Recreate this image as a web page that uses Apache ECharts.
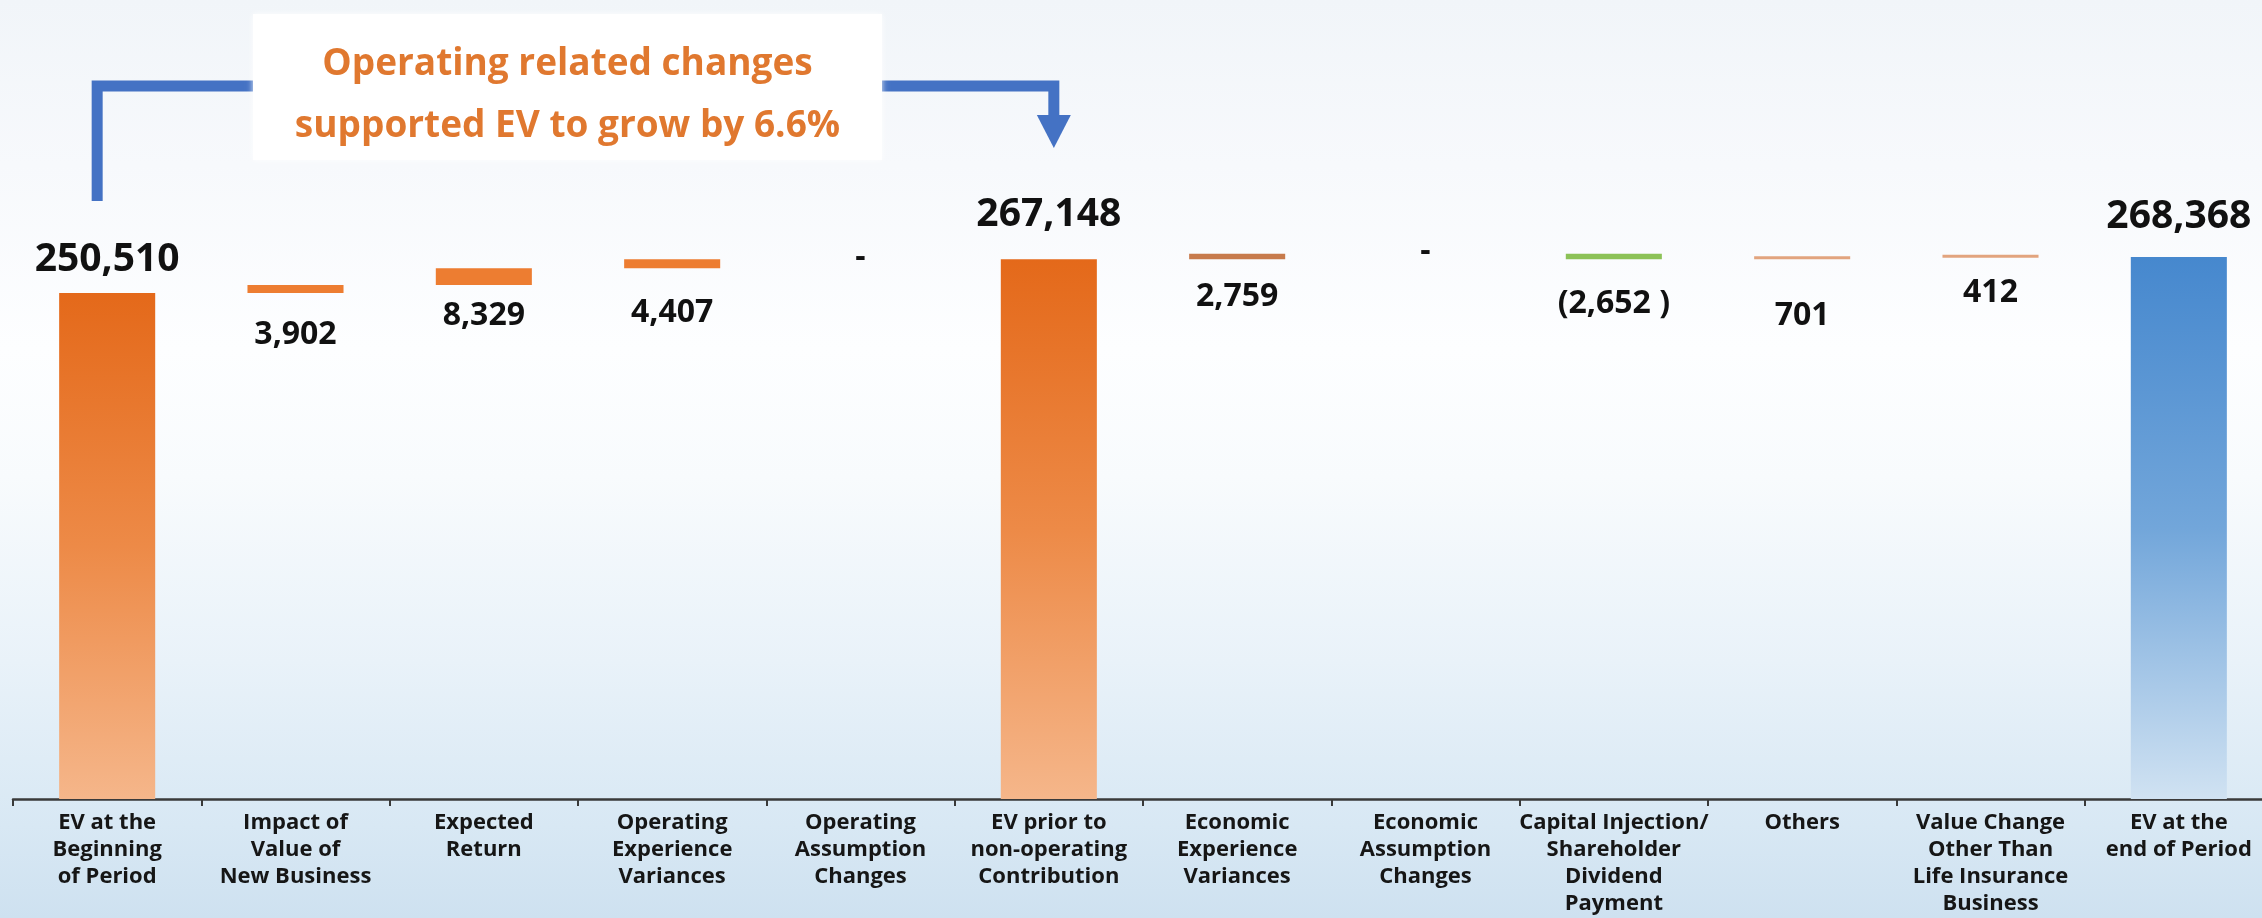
<!DOCTYPE html>
<html>
<head>
<meta charset="utf-8">
<title>EV movement</title>
<script src="https://cdn.jsdelivr.net/npm/echarts@6/dist/echarts.min.js"></script>
<style>
  html, body { margin: 0; padding: 0; width: 2262px; height: 918px; overflow: hidden; }
  body {
    background: linear-gradient(180deg, #F1F5F9 0%, #F7F9FC 18%, #FDFEFF 38%, #F8FBFD 52%, #E9F2F9 72%, #D8E8F4 90%, #CEE1F0 100%);
  }
  /* the last category runs slightly past the right edge */
  #chart { width: 2280px; height: 918px; }
</style>
</head>
<body>
<div id="chart"></div>
<script>
// Categories of the EV roll-forward (line breaks as shown under the axis)
const categories = [
  'EV at the\nBeginning\nof Period',
  'Impact of\nValue of\nNew Business',
  'Expected\nReturn',
  'Operating\nExperience\nVariances',
  'Operating\nAssumption\nChanges',
  'EV prior to\nnon-operating\nContribution',
  'Economic\nExperience\nVariances',
  'Economic\nAssumption\nChanges',
  'Capital Injection/\nShareholder\nDividend\nPayment',
  'Others',
  'Value Change\nOther Than\nLife Insurance\nBusiness',
  'EV at the\nend of Period'
];

// Movement values (totals are absolute EV, the rest are changes)
const values = [250510, 3902, 8329, 4407, 0, 267148, 2759, 0, -2652, 701, 412, 268368];
const isTotal = [true, false, false, false, false, true, false, false, false, false, false, true];

// Y axis range
const yMin = 0;
const yMax = 300000;

// Per-bar colour roles and label offsets (presentation only)
const colorRole = ['total', 'op', 'op', 'op', 'op', 'total', 'econ', 'econ', 'neg', 'minor', 'minor', 'final'];
const labelGap = [14, 26, 15, 29, 0, 25, 22, 0, 29, 41, 19, 21];

const fmt = v => Math.abs(v).toLocaleString('en-US');
const labelText = v => v === 0 ? '-' : (v < 0 ? '(' + fmt(v) + ' )' : fmt(v));

// Waterfall: transparent base + visible delta, stacked
const base = [];
const delta = [];
let running = 0;
values.forEach((v, i) => {
  if (isTotal[i]) { base.push(0); delta.push(v); running = v; }
  else if (v >= 0) { base.push(running); delta.push(v); running += v; }
  else { running += v; base.push(running); delta.push(-v); }
});

const grad = (stops) => ({
  type: 'linear', x: 0, y: 0, x2: 0, y2: 1,
  colorStops: stops.map(s => ({ offset: s[0], color: s[1] }))
});
const palette = {
  total: grad([[0, '#E4691A'], [0.5, '#ED8A47'], [1, '#F5B68A']]),
  final: grad([[0, '#4688CE'], [0.5, '#72A6DA'], [1, '#D0E2F2']]),
  op: '#ED7D31',
  econ: '#C77B4C',
  neg: '#8CC257',
  minor: '#E2A47E'
};

const deltaData = delta.map((d, i) => {
  const v = values[i];
  const big = isTotal[i];
  const pos = v === 0 ? 'inside' : (big ? 'top' : 'bottom');
  return {
    value: d,
    itemStyle: { color: v === 0 ? 'rgba(0,0,0,0)' : palette[colorRole[i]] },
    label: {
      show: true,
      position: pos,
      distance: labelGap[i],
      formatter: () => labelText(v),
      fontFamily: '"Open Sans", "Noto Sans", sans-serif',
      fontWeight: 'bold',
      fontSize: big ? 39 : 32,
      color: '#111111'
    }
  };
});

const chart = echarts.init(document.getElementById('chart'), null, { renderer: 'canvas' });

const option = {
  backgroundColor: 'transparent',
  animation: false,
  grid: { left: 13, right: 7, top: 193, bottom: 119, containLabel: false },
  xAxis: {
    type: 'category',
    data: categories,
    boundaryGap: true,
    axisLine: { show: true, lineStyle: { color: '#3A3A3A', width: 2.5 } },
    axisTick: { show: true, length: 7, alignWithLabel: false, lineStyle: { color: '#3A3A3A', width: 2 } },
    axisLabel: {
      interval: 0,
      margin: 10,
      fontFamily: '"Open Sans", "Noto Sans", sans-serif',
      fontWeight: 'bold',
      fontSize: 22,
      lineHeight: 27,
      color: '#161616'
    },
    splitLine: { show: false }
  },
  yAxis: {
    type: 'value',
    min: yMin,
    max: yMax,
    show: false,
    splitLine: { show: false }
  },
  series: [
    {
      name: 'base',
      type: 'bar',
      stack: 'wf',
      barWidth: '51%',
      silent: true,
      itemStyle: { color: 'rgba(0,0,0,0)' },
      data: base
    },
    {
      name: 'change',
      type: 'bar',
      stack: 'wf',
      barWidth: '51%',
      barMinHeight: 3,
      data: deltaData
    }
  ]
};
chart.setOption(option);

// Callout linking the opening EV to the pre non-operating EV
const xStart = chart.convertToPixel({ xAxisIndex: 0 }, 0) - 10;
const xEnd = chart.convertToPixel({ xAxisIndex: 0 }, 5) + 5;
const box = { x: 253, y: 14, w: 629, h: 146 };
const lineY = 86;
const blue = '#4472C4';

chart.setOption({
  graphic: [
    {
      type: 'polyline', z: 10,
      shape: { points: [[xStart, 201], [xStart, lineY], [box.x + 4, lineY]] },
      style: { stroke: blue, lineWidth: 11, fill: null, lineJoin: 'miter', lineCap: 'butt' }
    },
    {
      type: 'polyline', z: 10,
      shape: { points: [[box.x + box.w - 4, lineY], [xEnd, lineY], [xEnd, 118]] },
      style: { stroke: blue, lineWidth: 11, fill: null, lineJoin: 'miter', lineCap: 'butt' }
    },
    {
      type: 'polygon', z: 10,
      shape: { points: [[xEnd - 17, 115], [xEnd + 17, 115], [xEnd, 148]] },
      style: { fill: blue }
    },
    {
      type: 'rect', z: 11,
      shape: { x: box.x, y: box.y, width: box.w, height: box.h },
      style: { fill: '#FFFFFF', shadowBlur: 6, shadowColor: 'rgba(255,255,255,0.9)' }
    },
    {
      type: 'text', z: 12,
      x: box.x + box.w / 2, y: 64,
      style: {
        text: 'Operating related changes',
        font: 'bold 37px "Open Sans", "Noto Sans", sans-serif',
        fill: '#E0782F', align: 'center', verticalAlign: 'middle'
      }
    },
    {
      type: 'text', z: 12,
      x: box.x + box.w / 2, y: 126,
      style: {
        text: 'supported EV to grow by 6.6%',
        font: 'bold 37px "Open Sans", "Noto Sans", sans-serif',
        fill: '#E0782F', align: 'center', verticalAlign: 'middle'
      }
    }
  ]
});
</script>
</body>
</html>
